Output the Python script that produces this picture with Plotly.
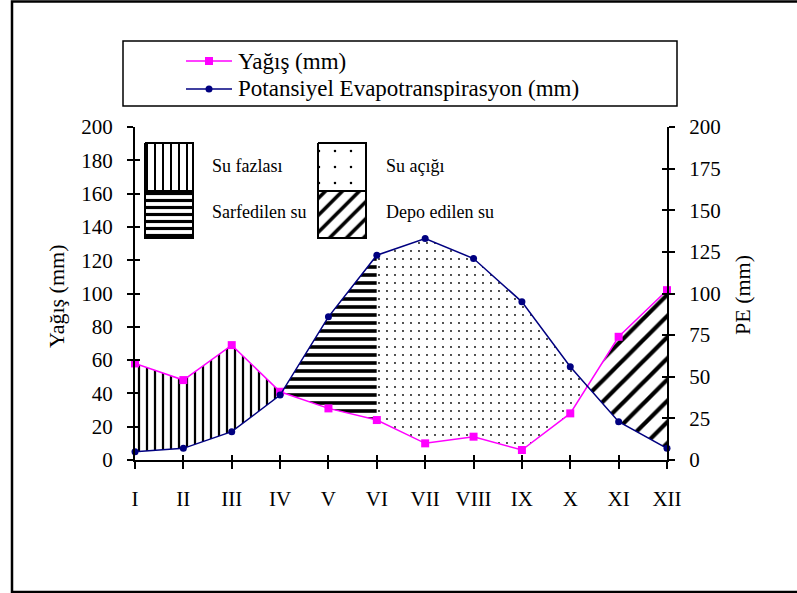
import numpy as np
import plotly.graph_objects as go

# ---------------- data ----------------
months = ["I", "II", "III", "IV", "V", "VI", "VII", "VIII", "IX", "X", "XI", "XII"]
precip = [58, 48, 69, 41, 31, 24, 10, 14, 6, 28, 74, 102]      # Yağış (mm)
pe = [5, 7, 17, 39, 86, 123, 133, 121, 95, 56, 23, 7]           # Potansiyel Evapotranspirasyon (mm)
left_ticks = list(range(0, 201, 20))
right_ticks = list(range(0, 201, 25))
series_names = ["Yağış (mm)", "Potansiyel Evapotranspirasyon (mm)"]
key_labels = ["Su fazlası", "Sarfedilen su", "Su açığı", "Depo edilen su"]
storage_end_month = 6   # VI: stored water used up

# ---------------- geometry helpers ----------------
W, H = 797, 593
PL, PR, PT, PB = 135, 667, 127, 460      # plot area in pixels


def px(x):
    return (x - PL) / (PR - PL)


def py(y):
    return (PB - y) / (PB - PT)


idx = np.arange(1, len(months) + 1)
P = np.array(precip, float)
E = np.array(pe, float)
d = P - E

# crossing points of the two curves
cross = []
for i in range(len(d) - 1):
    if d[i] * d[i + 1] < 0:
        cross.append(idx[i] + d[i] / (d[i] - d[i + 1]))
c1, c2 = cross[0], cross[-1]


def region(a, b):
    xs = [a] + [float(i) for i in idx if a < i < b] + [b]
    top = np.interp(xs, idx, P)
    bot = np.interp(xs, idx, E)
    return xs + xs[::-1], list(top) + list(bot[::-1])


patterns = {
    "fazla": dict(shape="|", size=8, solidity=0.28),
    "sarf": dict(shape="-", size=8, solidity=0.45),
    "acik": dict(shape=".", size=8, solidity=0.04),
    "depo": dict(shape="/", size=15, solidity=0.28),
}
series_style = [
    dict(color="#FF00FF", symbol="square", size=8),
    dict(color="#000080", symbol="circle", size=7),
]

fig = go.Figure()

regions = [("fazla", 1.0, c1), ("sarf", c1, storage_end_month),
           ("acik", storage_end_month, c2), ("depo", c2, 12.0)]
for name, a, b in regions:
    xs, ys = region(a, b)
    pat = patterns[name]
    fig.add_trace(go.Scatter(
        x=xs, y=ys, mode="none", fill="toself", fillcolor="white",
        fillpattern=dict(shape=pat["shape"], size=pat["size"], solidity=pat["solidity"],
                         fgcolor="black", bgcolor="white", fgopacity=1),
        showlegend=False, hoverinfo="skip"))

for vals, name, st, yax in zip([precip, pe], series_names, series_style, ["y", "y2"]):
    fig.add_trace(go.Scatter(
        x=idx, y=vals, mode="lines+markers", name=name, yaxis=yax,
        line=dict(color=st["color"], width=1.5),
        marker=dict(symbol=st["symbol"], size=st["size"], color=st["color"]),
        cliponaxis=False, showlegend=False))

# ---------------- pattern key (pixel overlay axes) ----------------
key_boxes = [
    ("fazla", 145, 193, 143, 191),
    ("sarf", 145, 193, 191, 238),
    ("acik", 318, 366, 143, 191),
    ("depo", 318, 366, 191, 238),
]
key_sizes = {"fazla": 8, "sarf": 7, "acik": 16, "depo": 12}
key_solid = {"fazla": 0.25, "sarf": 0.45, "acik": 0.02, "depo": 0.3}
for name, x0, x1, y0, y1 in key_boxes:
    pat = patterns[name]
    fig.add_trace(go.Scatter(
        x=[x0, x1, x1, x0, x0], y=[y0, y0, y1, y1, y0], xaxis="x3", yaxis="y3",
        mode="lines", fill="toself", fillcolor="white",
        line=dict(color="black", width=2),
        fillpattern=dict(shape=pat["shape"], size=key_sizes[name], solidity=key_solid[name],
                         fgcolor="black", bgcolor="white", fgopacity=1),
        showlegend=False, hoverinfo="skip"))

# dummy traces so the inner-tick overlay axes are drawn
fig.add_trace(go.Scatter(x=[None], y=[None], xaxis="x4", yaxis="y4", showlegend=False))
fig.add_trace(go.Scatter(x=[None], y=[None], xaxis="x4", yaxis="y5", showlegend=False))

FONT = "Liberation Serif, Times New Roman, serif"
tickfont = dict(family=FONT, size=21, color="black")

axis_common = dict(showgrid=False, zeroline=False, showline=True, linecolor="black",
                   linewidth=2, ticks="outside", tickcolor="black", tickwidth=2,
                   tickfont=tickfont)

annotations = []
legend_rows = [61, 89]
for text, yrow in zip(series_names, legend_rows):
    annotations.append(dict(x=px(236), y=py(yrow), xref="paper", yref="paper", text=text,
                            showarrow=False, xanchor="left", yanchor="middle",
                            font=dict(family=FONT, size=23, color="black")))
key_text_pos = [(210, 166), (210, 212), (384, 166), (384, 212)]
for text, (x, y) in zip(key_labels, key_text_pos):
    annotations.append(dict(x=px(x), y=py(y), xref="paper", yref="paper", text=text,
                            showarrow=False, xanchor="left", yanchor="middle",
                            font=dict(family=FONT, size=18, color="black")))
annotations.append(dict(x=px(56), y=py(296), xref="paper", yref="paper", text="Yağış (mm)",
                        textangle=-90, showarrow=False, xanchor="center", yanchor="middle",
                        font=dict(family=FONT, size=22, color="black")))
annotations.append(dict(x=px(742), y=py(295), xref="paper", yref="paper", text="PE (mm)",
                        textangle=-90, showarrow=False, xanchor="center", yanchor="middle",
                        font=dict(family=FONT, size=22, color="black")))

shapes = [
    dict(type="rect", xref="paper", yref="paper", x0=px(12), x1=px(812), y0=py(1.5), y1=py(592),
         line=dict(color="black", width=2.5)),
    dict(type="rect", xref="paper", yref="paper", x0=px(123), x1=px(677), y0=py(41), y1=py(106),
         line=dict(color="black", width=1.5)),
]
# legend samples (line with marker in the middle)
for st, yrow in zip(series_style, legend_rows):
    shapes.append(dict(type="line", xref="paper", yref="paper", x0=px(186), x1=px(232),
                       y0=py(yrow), y1=py(yrow), line=dict(color=st["color"], width=1.5)))
    h = st["size"] / 2
    shapes.append(dict(type="rect" if st["symbol"] == "square" else "circle",
                       xref="paper", yref="paper", x0=px(209 - h), x1=px(209 + h),
                       y0=py(yrow + h), y1=py(yrow - h), fillcolor=st["color"],
                       line=dict(color=st["color"], width=0)))

fig.update_layout(
    width=W, height=H,
    margin=dict(l=PL, r=W - PR, t=PT, b=H - PB, pad=0),
    paper_bgcolor="white", plot_bgcolor="white",
    showlegend=False,
    xaxis=dict(range=[1, 12], tickvals=list(idx), ticktext=months, ticklen=7,
               ticklabelstandoff=12, **axis_common),
    yaxis=dict(range=[0, 200], tickvals=left_ticks, ticklen=6, ticklabelstandoff=10,
               **axis_common),
    yaxis2=dict(range=[0, 200], tickvals=right_ticks, overlaying="y", side="right",
                ticklen=6, ticklabelstandoff=10, **axis_common),
    xaxis3=dict(range=[PL, PR], overlaying="x", visible=False),
    yaxis3=dict(range=[PB, PT], overlaying="y", visible=False),
    xaxis4=dict(range=[1, 12], tickvals=list(idx), overlaying="x", ticks="inside", ticklen=5,
                tickwidth=2, tickcolor="black", showticklabels=False, showline=False,
                showgrid=False, zeroline=False),
    yaxis4=dict(range=[0, 200], tickvals=left_ticks, overlaying="y", ticks="inside", ticklen=5,
                tickwidth=2, tickcolor="black", showticklabels=False, showline=False,
                showgrid=False, zeroline=False),
    yaxis5=dict(range=[0, 200], tickvals=right_ticks, overlaying="y", side="right", ticks="inside",
                ticklen=5, tickwidth=2, tickcolor="black", showticklabels=False, showline=False,
                showgrid=False, zeroline=False),
    annotations=annotations,
    shapes=shapes,
)

fig.write_html("out.html")
